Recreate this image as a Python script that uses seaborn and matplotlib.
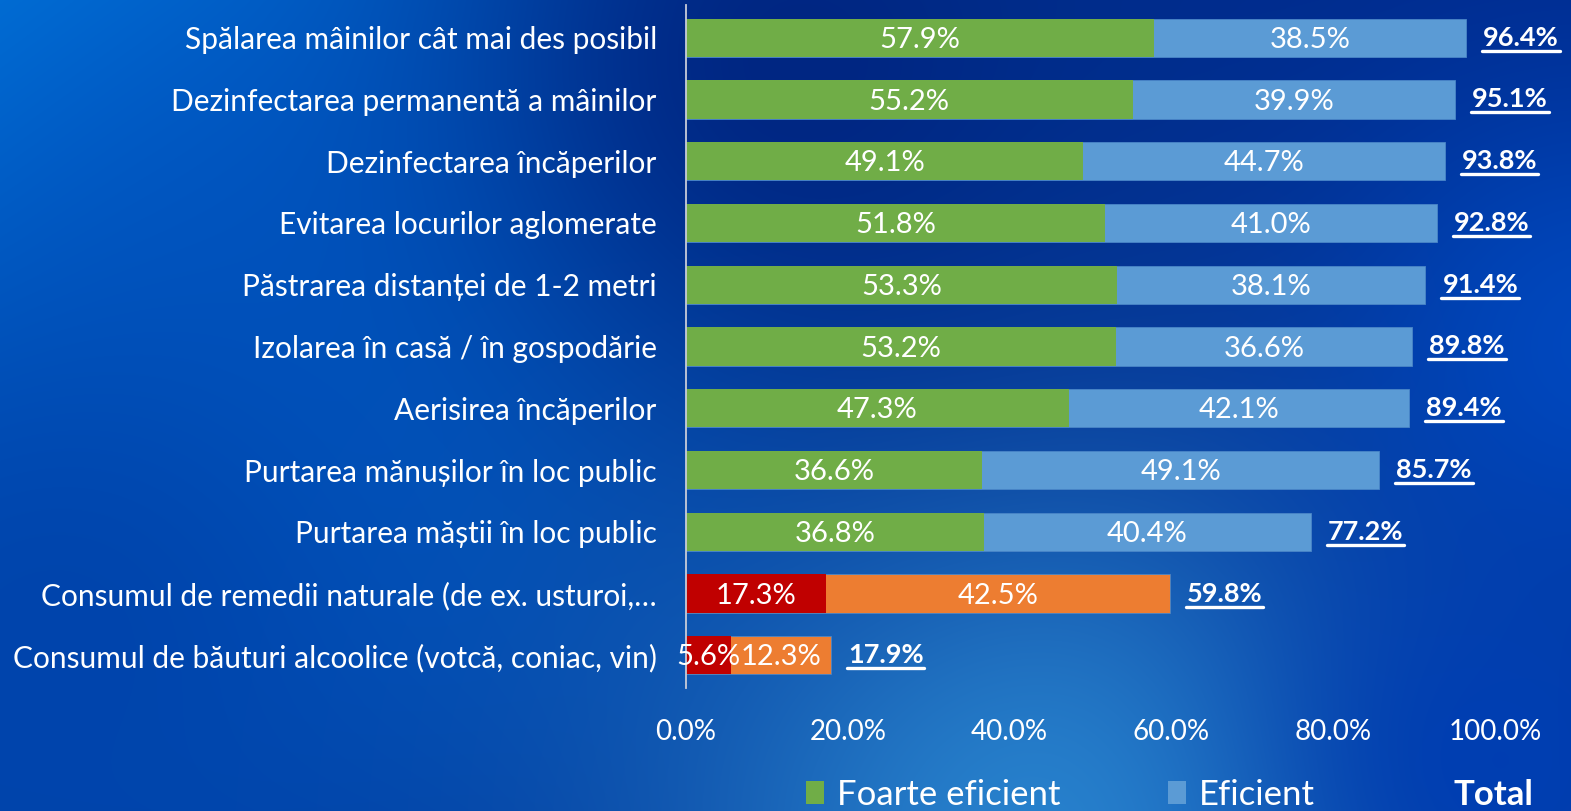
import numpy as np
import pandas as pd
import matplotlib
matplotlib.use('Agg')
import matplotlib.pyplot as plt
from matplotlib.patches import Patch
from matplotlib.lines import Line2D
import seaborn as sns

# data
categories = [
    "Spălarea mâinilor cât mai des posibil",
    "Dezinfectarea permanentă a mâinilor",
    "Dezinfectarea încăperilor",
    "Evitarea locurilor aglomerate",
    "Păstrarea distanței de 1-2 metri",
    "Izolarea în casă / în gospodărie",
    "Aerisirea încăperilor",
    "Purtarea mănușilor în loc public",
    "Purtarea măștii în loc public",
    "Consumul de remedii naturale (de ex. usturoi,…",
    "Consumul de băuturi alcoolice (votcă, coniac, vin)",
]
foarte_eficient = [57.9, 55.2, 49.1, 51.8, 53.3, 53.2, 47.3, 36.6, 36.8, 17.3, 5.6]
eficient = [38.5, 39.9, 44.7, 41.0, 38.1, 36.6, 42.1, 49.1, 40.4, 42.5, 12.3]
total = [96.4, 95.1, 93.8, 92.8, 91.4, 89.8, 89.4, 85.7, 77.2, 59.8, 17.9]
x_ticks = [0, 20, 40, 60, 80, 100]

GREEN, BLUE, RED, ORANGE = '#70AD47', '#5B9BD5', '#C00000', '#ED7D31'

df = pd.DataFrame({'cat': categories, 'foarte': foarte_eficient,
                   'eficient': eficient, 'total': total})
front_pal = {c: (RED if i >= 9 else GREEN) for i, c in enumerate(categories)}
back_pal = {c: (ORANGE if i >= 9 else BLUE) for i, c in enumerate(categories)}

sns.set_theme(style='white')
plt.rcParams['font.family'] = ['Lato', 'DejaVu Sans']

fig = plt.figure(figsize=(15.71, 8.11), dpi=100)

# gradient background
H, W = 811, 1571
yy, xx = np.mgrid[0:H, 0:W]
img = np.zeros((H, W, 3)) + np.array([0, 40, 138]) / 255.0
blobs = [
    ((0, 0), 480, (0, 135, 232)),
    ((250, 260), 340, (0, 92, 200)),
    ((60, 650), 280, (0, 68, 172)),
    ((1050, 840), 300, (40, 130, 205)),
    ((1600, 350), 200, (0, 72, 190)),
    ((1500, 760), 160, (0, 62, 178)),
    ((800, 60), 250, (0, 38, 130)),
]
for (cx, cy), s, col in blobs:
    w = np.exp(-((xx - cx) ** 2 + (yy - cy) ** 2) / (2 * s ** 2))[..., None]
    img = img * (1 - w) + np.array(col) / 255.0 * w
bg = fig.add_axes([0, 0, 1, 1], zorder=-1)
bg.imshow(img, aspect='auto', extent=[0, 1, 0, 1])
bg.axis('off')

ax = fig.add_axes([686 / 1571, 1 - 688 / 811, (1495 - 686) / 1571, (688 - 5) / 811])
ax.set_facecolor('none')

sns.barplot(data=df, x='total', y='cat', hue='cat', palette=back_pal, width=0.62,
            orient='h', legend=False, ax=ax, edgecolor='#4A86C8', linewidth=0.6,
            errorbar=None, saturation=1)
sns.barplot(data=df, x='foarte', y='cat', hue='cat', palette=front_pal, width=0.62,
            orient='h', legend=False, ax=ax, linewidth=0, errorbar=None, saturation=1)

ax.set_xlim(0, 100)
ax.set_ylim(10.53, -0.53)
ax.set_xticks(x_ticks)
ax.set_xticklabels([f'{v:.1f}%' for v in x_ticks])
ax.set_xlabel('')
ax.set_ylabel('')
ax.tick_params(axis='x', length=0, pad=22, labelsize=20, colors='white')
ax.tick_params(axis='y', length=0, pad=21, labelsize=21.5, colors='white')
for s in ['top', 'right', 'bottom']:
    ax.spines[s].set_visible(False)
ax.spines['left'].set_color('#C8CCD8')
ax.spines['left'].set_linewidth(1.3)

# labels inside the bars and totals
total_texts = []
for i in range(len(categories)):
    f, e, t = foarte_eficient[i], eficient[i], total[i]
    ax.text(f / 2, i + 0.035, f'{f:.1f}%', ha='center', va='center', color='white', fontsize=21)
    ax.text(f + e / 2, i + 0.035, f'{e:.1f}%', ha='center', va='center', color='white', fontsize=21)
    tt = ax.text(t + 2.1, i, f'{t:.1f}%', ha='left', va='center', color='white',
                 fontsize=19.5, fontweight='bold')
    total_texts.append(tt)

handles = [Patch(facecolor=GREEN, edgecolor='none'),
           Patch(facecolor=BLUE, edgecolor='none'),
           Patch(facecolor='none', edgecolor='none')]
leg = fig.legend(handles, ['Foarte eficient', 'Eficient', 'Total'], loc='center',
                 bbox_to_anchor=(1170 / 1571, 1 - 795 / 811), ncol=3, frameon=False,
                 fontsize=25, handlelength=0.52, handleheight=0.65, handletextpad=0.37,
                 columnspacing=3.1, labelcolor='white', borderpad=0, borderaxespad=0)
leg.get_texts()[2].set_fontweight('bold')

# underline the totals
fig.canvas.draw()
for tt in total_texts:
    bb = tt.get_window_extent()
    y = (bb.y0 - 1) / H
    fig.add_artist(Line2D([(bb.x0 - 1) / W, (bb.x1 + 1) / W], [y, y], color='white', lw=2.4))

fig.savefig('out.png', dpi=100)
